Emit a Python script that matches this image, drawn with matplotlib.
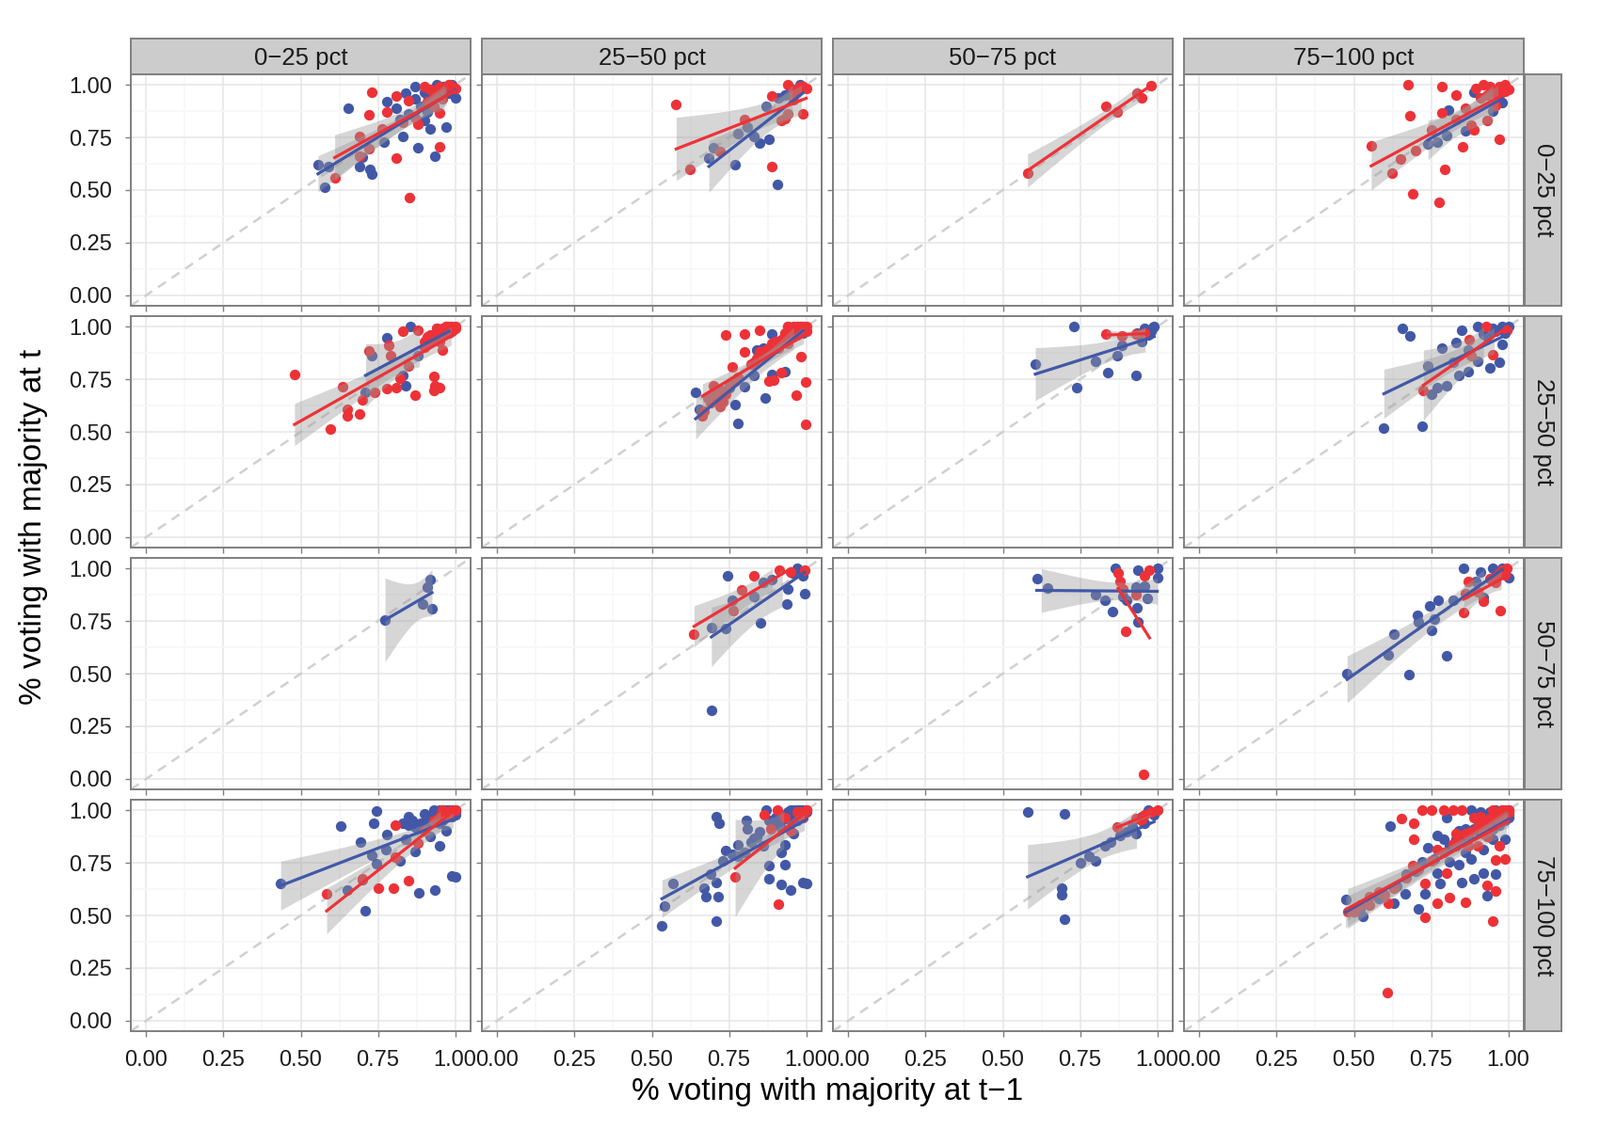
import numpy as np
import matplotlib
matplotlib.use("Agg")
import matplotlib.pyplot as plt

plt.rcParams['font.family'] = ['Liberation Sans', 'DejaVu Sans']

RED = '#ED3237'
BLUE = '#4258A7'

col_labels = ['0\u221225 pct', '25\u221250 pct', '50\u221275 pct', '75\u2212100 pct']
row_labels = ['0\u221225 pct', '25\u221250 pct', '50\u221275 pct', '75\u2212100 pct']
ticks = [0.0, 0.25, 0.5, 0.75, 1.0]
tick_labels = ['0.00', '0.25', '0.50', '0.75', '1.00']

# (x = share at t-1, y = share at t);
# the top-right clusters are heavily overplotted in the original
p11_blue = [(0.654, 0.888), (0.78, 0.92), (0.556, 0.62), (0.578, 0.513), (0.69, 0.613), (0.73, 0.576),
            (0.725, 0.60), (0.77, 0.73), (0.83, 0.754), (0.88, 0.70), (0.935, 0.66), (0.97, 0.80),
            (0.92, 0.79), (1.0, 0.94), (0.87, 0.993), (0.94, 1.0), (0.81, 0.89), (0.85, 0.86),
            (0.90, 0.963), (0.96, 0.99), (0.82, 0.836), (0.90, 0.83), (0.99, 0.98), (0.87, 0.933),
            (0.84, 0.96), (0.91, 0.87), (0.70, 0.657), (0.59, 0.61),
            (0.93, 0.95), (0.95, 0.97), (0.97, 0.99), (0.98, 0.96), (0.99, 1.0), (0.96, 0.94),
            (0.92, 0.93), (0.94, 0.98), (0.89, 0.90), (0.91, 0.95)]
p11_red = [(0.73, 0.966), (0.81, 0.945), (0.72, 0.856), (0.78, 0.87), (0.69, 0.757), (0.69, 0.66),
           (0.61, 0.56), (0.81, 0.65), (0.853, 0.464), (0.95, 0.707), (0.95, 0.866), (0.88, 0.814),
           (0.85, 0.926), (0.90, 0.993), (0.98, 1.0), (0.92, 0.978), (0.87, 0.844), (0.96, 0.933),
           (0.93, 0.90), (1.0, 0.985), (0.83, 0.82), (0.765, 0.79), (0.72, 0.695),
           (0.94, 0.96), (0.97, 0.98), (0.99, 0.99), (0.96, 0.95), (0.98, 1.0), (0.93, 0.94),
           (0.91, 0.92), (0.95, 0.99)]

p12_blue = [(0.685, 0.65), (0.70, 0.70), (0.77, 0.62), (0.85, 0.725), (0.88, 0.74), (0.906, 0.528),
            (0.83, 0.754), (0.78, 0.77), (0.87, 0.90), (0.91, 0.94), (0.95, 0.985), (0.99, 0.99),
            (0.96, 0.96), (0.81, 0.80), (0.97, 0.98), (0.98, 1.0), (0.93, 0.95)]
p12_red = [(0.579, 0.906), (0.624, 0.60), (0.89, 0.613), (0.99, 0.86), (0.72, 0.683), (0.80, 0.836),
           (0.94, 0.86), (0.89, 0.945), (0.94, 1.0), (0.99, 0.99), (1.0, 0.985), (0.96, 0.93),
           (0.92, 0.83), (0.93, 0.84), (0.97, 0.98), (0.98, 0.99), (0.96, 0.97)]

p13_blue = []
p13_red = [(0.58, 0.58), (0.835, 0.90), (0.87, 0.87), (0.935, 0.96), (0.95, 0.94), (0.98, 0.995)]

p14_blue = [(0.805, 0.88), (0.86, 0.78), (0.74, 0.717), (0.77, 0.73), (0.89, 0.963), (0.95, 0.874),
            (0.98, 0.918), (0.80, 0.76)]
p14_red = [(0.675, 1.0), (0.785, 0.99), (0.83, 0.95), (0.68, 0.854), (0.556, 0.71), (0.624, 0.58),
           (0.65, 0.647), (0.70, 0.688), (0.795, 0.598), (0.69, 0.484), (0.775, 0.44), (0.853, 0.705),
           (0.89, 0.784), (0.93, 0.83), (0.97, 0.74), (0.785, 0.866), (0.86, 0.89), (0.895, 0.985),
           (0.92, 1.0), (0.96, 0.903), (1.0, 0.978), (0.94, 0.96), (0.88, 0.81), (0.75, 0.785),
           (0.83, 0.836), (0.95, 0.97), (0.97, 0.99), (0.99, 1.0), (0.96, 0.96), (0.98, 0.98),
           (0.93, 0.95), (0.91, 0.94), (0.94, 0.99), (0.97, 0.95), (0.99, 0.97)]

p21_blue = [(0.854, 1.0), (0.78, 0.948), (0.73, 0.86), (0.83, 0.77), (0.84, 0.717), (0.94, 0.99),
            (0.88, 0.86), (0.98, 0.978), (0.71, 0.687)]
p21_red = [(0.48, 0.772), (0.636, 0.713), (0.597, 0.513), (0.65, 0.606), (0.65, 0.576), (0.69, 0.583),
           (0.70, 0.65), (0.74, 0.687), (0.72, 0.885), (0.785, 0.91), (0.83, 0.98), (0.78, 0.707),
           (0.81, 0.71), (0.87, 0.673), (0.93, 0.762), (0.934, 0.717), (0.95, 0.71), (0.93, 0.695),
           (0.88, 0.985), (0.94, 0.978), (0.97, 1.0), (1.0, 0.99), (0.90, 0.903), (0.85, 0.814),
           (0.92, 0.933), (0.96, 0.888), (0.82, 0.754), (0.79, 0.86),
           (0.95, 0.98), (0.97, 0.99), (0.99, 1.0), (0.96, 0.96), (0.98, 0.97), (0.93, 0.95),
           (0.94, 0.99), (0.99, 0.98), (0.97, 1.0), (0.92, 0.96), (0.90, 0.93), (0.95, 0.93),
           (0.98, 1.0), (1.0, 1.0), (0.96, 0.99), (0.91, 0.95)]

p22_blue = [(0.642, 0.69), (0.654, 0.606), (0.77, 0.628), (0.78, 0.54), (0.866, 0.662), (0.80, 0.713),
            (0.89, 0.772), (0.93, 0.787), (0.84, 0.888), (0.89, 0.963), (0.94, 1.0), (0.99, 0.985),
            (0.83, 0.77), (0.75, 0.71), (0.95, 0.97), (0.97, 0.99), (0.99, 0.97), (0.93, 0.94),
            (0.91, 0.92), (0.88, 0.89), (0.86, 0.90), (0.98, 1.0)]
p22_red = [(0.74, 0.96), (0.80, 0.963), (0.85, 0.985), (0.80, 0.88), (0.76, 0.81), (0.984, 0.858),
           (0.998, 0.737), (0.968, 0.673), (0.998, 0.534), (0.92, 0.78), (0.88, 0.74), (0.896, 0.747),
           (0.73, 0.643), (0.664, 0.576), (0.70, 0.717), (0.94, 1.0), (0.98, 1.0), (0.83, 0.83),
           (0.91, 0.90), (0.93, 0.97), (0.95, 0.98), (0.97, 0.99), (0.99, 1.0), (0.96, 0.95),
           (0.98, 0.97), (0.92, 0.94), (0.94, 0.92), (0.97, 0.96), (0.99, 0.98), (0.90, 0.93),
           (0.88, 0.90), (0.86, 0.87), (0.84, 0.85), (0.82, 0.82), (0.78, 0.76), (0.75, 0.72),
           (0.70, 0.69), (0.68, 0.66), (0.72, 0.70), (0.67, 0.60), (0.72, 0.62),
           (0.95, 0.99), (0.97, 1.0), (0.99, 0.99), (1.0, 1.0), (0.96, 0.98), (0.93, 0.95),
           (0.91, 0.93), (0.89, 0.92), (0.87, 0.89), (0.85, 0.88), (0.98, 0.99), (1.0, 0.98),
           (0.96, 1.0), (0.94, 0.97), (0.69, 0.64), (0.71, 0.66), (0.74, 0.68), (0.77, 0.74)]

p23_blue = [(0.605, 0.82), (0.73, 1.0), (0.74, 0.71), (0.80, 0.835), (0.84, 0.78), (0.87, 0.86),
            (0.93, 0.77), (0.935, 0.97), (0.97, 0.96), (0.985, 0.995), (0.95, 0.93), (0.885, 0.91),
            (0.99, 1.0), (0.98, 0.98), (0.96, 0.99)]
p23_red = [(0.835, 0.965), (0.885, 0.955), (0.93, 0.965), (0.96, 0.97)]

p24_blue = [(0.657, 0.993), (0.68, 0.955), (0.597, 0.52), (0.72, 0.528), (0.785, 0.90), (0.83, 0.926),
            (0.85, 0.985), (0.75, 0.68), (0.80, 0.717), (0.77, 0.71), (0.87, 0.784), (0.90, 0.836),
            (0.94, 0.806), (0.97, 0.83), (0.90, 1.0), (0.95, 0.99), (0.99, 0.97), (0.98, 0.918),
            (0.82, 0.83), (0.74, 0.814), (0.84, 0.77), (0.92, 0.963), (0.87, 0.888), (1.0, 1.0),
            (0.96, 0.98), (0.98, 1.0), (0.93, 0.95)]
p24_red = [(0.725, 0.695), (0.874, 0.94), (0.88, 0.86), (0.95, 0.866), (0.995, 0.985), (0.927, 1.0)]

p31_blue = [(0.773, 0.755), (0.895, 0.83), (0.92, 0.947), (0.925, 0.81), (0.91, 0.91)]
p31_red = []

p32_blue = [(0.745, 0.967), (0.693, 0.326), (0.853, 0.74), (0.936, 0.83), (0.695, 0.717), (0.74, 0.713),
            (0.76, 0.85), (0.83, 0.866), (0.86, 0.933), (0.89, 0.948), (0.94, 0.903), (0.995, 0.88),
            (0.97, 1.0), (0.99, 0.963), (0.955, 0.978)]
p32_red = [(0.637, 0.69), (0.83, 0.966), (0.79, 0.896), (0.764, 0.80), (0.913, 0.99), (0.995, 0.99),
           (0.95, 0.985)]

p33_blue = [(0.61, 0.95), (0.644, 0.906), (0.80, 0.876), (0.83, 0.847), (0.854, 0.796), (0.863, 1.0),
            (0.937, 0.99), (1.0, 1.0), (1.0, 0.955), (0.967, 0.858), (0.934, 0.814), (0.937, 0.747),
            (0.90, 0.85), (0.89, 0.866), (0.93, 0.91), (0.96, 0.918)]
p33_red = [(0.898, 0.70), (0.957, 0.02), (0.873, 0.978), (0.88, 0.94), (0.93, 0.874), (0.96, 0.963),
           (0.975, 0.99), (0.89, 0.903)]

p34_blue = [(0.478, 0.50), (0.611, 0.588), (0.63, 0.687), (0.677, 0.494), (0.80, 0.583), (0.75, 0.707),
            (0.705, 0.777), (0.745, 0.82), (0.774, 0.847), (0.82, 0.85), (0.854, 1.0), (0.91, 0.985),
            (0.95, 1.0), (0.98, 1.0), (0.92, 0.86), (0.896, 0.94), (1.0, 0.955), (0.76, 0.76),
            (0.71, 0.747)]
p34_red = [(0.975, 0.80), (0.856, 0.79), (0.86, 0.88), (0.87, 0.94), (0.995, 1.0), (0.90, 0.888),
           (0.96, 0.933), (0.92, 0.844), (0.97, 0.98), (0.98, 0.99), (0.99, 0.97), (0.96, 0.96),
           (0.94, 0.95)]

p41_blue = [(0.435, 0.65), (0.631, 0.927), (0.745, 0.995), (0.735, 0.94), (0.695, 0.848), (0.78, 0.885),
            (0.708, 0.524), (0.65, 0.62), (0.73, 0.784), (0.745, 0.747), (0.82, 0.76), (0.87, 0.806),
            (0.883, 0.606), (0.935, 0.62), (0.95, 0.83), (0.99, 0.688), (1.0, 0.683), (0.83, 0.94),
            (0.85, 0.97), (0.90, 0.985), (0.93, 1.0), (0.97, 0.903), (1.0, 0.993), (0.88, 0.918),
            (0.92, 0.874), (0.775, 0.814), (0.84, 0.86), (0.70, 0.67),
            (0.95, 0.98), (0.96, 0.99), (0.97, 0.97), (0.98, 1.0), (0.99, 0.99), (0.94, 0.96),
            (0.93, 0.97), (0.96, 0.95), (0.92, 0.95), (0.91, 0.93), (0.95, 0.94), (0.99, 0.97),
            (0.89, 0.94), (0.87, 0.92), (0.86, 0.95), (0.85, 0.93), (0.97, 1.0), (0.98, 0.98),
            (1.0, 1.0), (0.94, 0.99), (0.96, 1.0), (0.99, 1.0), (0.98, 0.99), (1.0, 0.98),
            (0.97, 0.99), (0.95, 1.0), (0.93, 0.98), (0.91, 0.97)]
p41_red = [(0.584, 0.603), (0.70, 0.673), (0.75, 0.628), (0.80, 0.628), (0.85, 0.665), (0.805, 0.93),
           (0.805, 0.777), (0.88, 0.844), (0.99, 1.0), (0.97, 0.985), (0.90, 0.903),
           (0.95, 0.97), (0.97, 0.99), (0.98, 0.98), (1.0, 1.0), (0.93, 0.95), (0.96, 1.0)]

p42_blue = [(0.533, 0.45), (0.54, 0.546), (0.57, 0.653), (0.674, 0.588), (0.67, 0.628), (0.71, 0.474),
            (0.714, 0.588), (0.71, 0.658), (0.69, 0.695), (0.71, 0.97), (0.718, 0.94), (0.74, 0.81),
            (0.78, 0.836), (0.806, 0.95), (0.81, 0.91), (0.88, 0.736), (0.88, 0.673), (0.92, 0.647),
            (0.93, 0.74), (0.92, 0.80), (0.95, 0.62), (0.99, 0.658), (1.0, 0.65), (0.83, 0.866),
            (0.87, 1.0), (0.93, 0.836), (0.95, 1.0), (0.99, 0.99), (0.86, 0.83), (0.92, 0.918),
            (0.96, 0.888), (0.90, 0.963),
            (0.94, 0.97), (0.96, 0.99), (0.97, 0.98), (0.98, 1.0), (0.99, 0.97), (1.0, 1.0),
            (0.95, 0.95), (0.93, 0.96), (0.91, 0.94), (0.89, 0.92), (0.97, 0.95), (0.98, 0.99),
            (0.96, 1.0), (0.92, 0.97), (0.88, 0.95), (0.85, 0.90), (0.84, 0.87), (0.82, 0.85),
            (0.80, 0.80), (0.78, 0.78), (0.76, 0.79), (0.73, 0.76), (0.99, 1.0), (1.0, 0.99),
            (0.97, 1.0), (0.94, 0.99)]
p42_red = [(0.91, 0.554), (0.77, 0.683), (0.864, 0.978), (0.906, 1.0), (0.99, 0.963), (0.886, 0.91),
           (0.95, 0.903), (0.98, 0.99), (0.93, 0.963), (1.0, 1.0), (0.97, 0.99)]

p43_blue = [(0.58, 0.99), (0.70, 0.985), (0.69, 0.63), (0.69, 0.60), (0.70, 0.48), (0.78, 0.78),
            (0.80, 0.76), (0.85, 0.85), (0.88, 0.88), (0.92, 0.92), (0.95, 0.97), (0.97, 1.0),
            (0.99, 0.98), (0.93, 0.89), (0.96, 0.94), (0.90, 0.90), (0.83, 0.83), (0.75, 0.75)]
p43_red = [(0.87, 0.92), (0.93, 0.96), (0.96, 0.98), (0.98, 0.99), (0.95, 0.95), (1.0, 1.0)]

p44_blue = [(0.473, 0.576), (0.53, 0.494), (0.617, 0.927), (0.63, 0.56), (0.667, 0.605), (0.71, 0.53),
            (0.73, 0.605), (0.74, 0.82), (0.77, 0.88), (0.78, 0.65), (0.84, 0.903), (0.85, 0.658),
            (0.89, 0.673), (0.92, 0.70), (0.96, 0.695), (0.93, 0.594), (0.88, 1.0), (0.94, 0.99),
            (1.0, 0.963), (0.99, 0.86), (0.81, 0.754), (0.86, 0.80), (0.88, 0.77), (0.83, 0.83),
            (0.90, 0.903), (0.95, 0.86), (0.80, 0.963), (0.77, 0.70), (0.72, 0.754), (0.67, 0.695),
            (0.96, 0.933), (0.92, 0.814), (0.79, 0.86), (0.84, 0.74), (0.98, 1.0),
            (0.97, 0.98), (0.99, 0.99), (1.0, 1.0), (0.95, 0.96), (0.93, 0.95), (0.91, 0.93),
            (0.98, 0.96), (0.96, 1.0), (0.94, 0.94), (0.92, 0.97), (0.90, 0.95), (0.89, 0.91),
            (0.87, 0.88), (0.85, 0.87), (0.97, 0.93), (0.99, 0.95), (0.95, 0.91), (0.93, 0.90),
            (0.98, 0.99), (1.0, 0.98), (0.96, 0.97), (0.91, 0.99), (0.86, 0.91), (0.83, 0.86),
            (0.81, 0.83), (0.76, 0.77), (0.70, 0.71), (0.64, 0.64), (0.58, 0.58), (0.52, 0.53)]
p44_red = [(0.607, 0.134), (0.654, 0.96), (0.695, 0.94), (0.695, 0.862), (0.72, 1.0), (0.75, 1.0),
           (0.79, 1.0), (0.82, 1.0), (0.85, 1.0), (0.73, 0.49), (0.77, 0.556), (0.81, 0.583),
           (0.86, 0.564), (0.95, 0.472), (0.93, 0.643), (0.96, 0.617), (0.80, 0.70), (0.69, 0.737),
           (0.96, 0.762), (0.99, 0.77), (0.90, 0.83), (0.83, 0.888), (0.93, 0.874), (0.87, 0.83),
           (0.89, 0.963), (0.98, 0.99), (0.97, 0.83), (0.77, 0.814), (0.48, 0.516), (0.55, 0.59),
           (0.58, 0.61), (0.55, 0.55), (0.61, 0.56), (0.73, 0.65),
           (0.97, 0.99), (0.99, 1.0), (1.0, 1.0), (0.96, 0.97), (0.94, 0.96), (0.92, 0.95),
           (0.98, 0.97), (0.95, 1.0), (0.93, 0.93), (0.91, 0.97), (0.90, 0.92), (0.88, 0.90),
           (0.86, 0.89), (0.97, 0.95), (0.99, 0.97), (0.94, 0.91), (0.92, 0.89), (0.98, 1.0),
           (1.0, 0.99), (0.96, 0.99), (0.84, 0.85), (0.82, 0.84), (0.79, 0.80), (0.75, 0.76),
           (0.71, 0.72), (0.67, 0.68), (0.63, 0.63), (0.60, 0.60), (0.52, 0.55), (0.50, 0.52)]

panels = [[(p11_blue, p11_red), (p12_blue, p12_red), (p13_blue, p13_red), (p14_blue, p14_red)],
          [(p21_blue, p21_red), (p22_blue, p22_red), (p23_blue, p23_red), (p24_blue, p24_red)],
          [(p31_blue, p31_red), (p32_blue, p32_red), (p33_blue, p33_red), (p34_blue, p34_red)],
          [(p41_blue, p41_red), (p42_blue, p42_red), (p43_blue, p43_red), (p44_blue, p44_red)]]


def t975(df):
    z = 1.959964
    return (z + (z**3 + z) / (4 * df) + (5 * z**5 + 16 * z**3 + 3 * z) / (96 * df**2)
            + (3 * z**7 + 19 * z**5 + 17 * z**3 - 15 * z) / (384 * df**3))


def smooth(ax, pts, color):
    # lm fit with 95% band; parts outside the 0..1 scale limits are dropped
    if len(pts) < 3:
        return
    d = np.array(pts)
    x, y = d[:, 0], d[:, 1]
    n = len(x)
    b, a = np.polyfit(x, y, 1)
    xs = np.linspace(x.min(), x.max(), 80)
    fit = a + b * xs
    resid = y - (a + b * x)
    s = np.sqrt(np.sum(resid**2) / (n - 2))
    se = s * np.sqrt(1.0 / n + (xs - x.mean())**2 / np.sum((x - x.mean())**2))
    w = t975(n - 2) * se
    ok = (fit - w >= 0) & (fit + w <= 1)
    if ok.sum() >= 2:
        ax.fill_between(xs[ok], (fit - w)[ok], (fit + w)[ok], color='#999999', alpha=0.4,
                        lw=0, zorder=4)
    ok = (fit >= 0) & (fit <= 1)
    ax.plot(xs[ok], fit[ok], color=color, lw=2.3, zorder=5)


fig = plt.figure(figsize=(17, 12), dpi=100)
W, H = 1700, 1200
col_x = [139, 512, 885, 1258]
row_y = [79, 336, 593, 850]
pw, ph = 361, 246

for i in range(4):
    for j in range(4):
        ax = fig.add_axes([col_x[j] / W, 1 - (row_y[i] + ph) / H, pw / W, ph / H])
        ax.set_xlim(-0.05, 1.05)
        ax.set_ylim(-0.05, 1.05)
        ax.set_xticks(ticks)
        ax.set_yticks(ticks)
        ax.set_xticks([0.125, 0.375, 0.625, 0.875], minor=True)
        ax.set_yticks([0.125, 0.375, 0.625, 0.875], minor=True)
        ax.grid(which='major', color='#E5E5E5', lw=1.1, zorder=0)
        ax.grid(which='minor', color='#F7F7F7', lw=1.1, zorder=0)
        ax.set_axisbelow(True)
        for sp in ax.spines.values():
            sp.set_color('#7F7F7F')
            sp.set_linewidth(1.4)
        ax.tick_params(which='major', length=4.5, width=1, color='#7F7F7F', labelsize=17,
                       labelcolor='#1A1A1A', pad=10)
        ax.tick_params(which='minor', length=0)
        if i == 3:
            ax.set_xticklabels(tick_labels)
        else:
            ax.set_xticklabels([])
        if j == 0:
            ax.set_yticklabels(tick_labels)
        else:
            ax.set_yticklabels([])

        ax.plot([-0.05, 1.05], [-0.05, 1.05], color='#D0D0D0', lw=1.8, ls=(0, (4, 3)), zorder=1)

        blue, red = panels[i][j]
        for pts, c in ((blue, BLUE), (red, RED)):
            if pts:
                d = np.array(pts)
                ax.scatter(d[:, 0], d[:, 1], s=66, color=c, lw=0, zorder=3, clip_on=False)
        smooth(ax, blue, BLUE)
        smooth(ax, red, RED)

        if i == 0:
            sax = fig.add_axes([col_x[j] / W, 1 - 79 / H, pw / W, 38 / H])
            sax.set_facecolor('#CCCCCC')
            sax.set_xticks([])
            sax.set_yticks([])
            for sp in sax.spines.values():
                sp.set_color('#7F7F7F')
                sp.set_linewidth(1.4)
            sax.text(0.5, 0.45, col_labels[j], ha='center', va='center', fontsize=18.5,
                     color='#1A1A1A')
        if j == 3:
            rax = fig.add_axes([1620 / W, 1 - (row_y[i] + ph) / H, 39 / W, ph / H])
            rax.set_facecolor('#CCCCCC')
            rax.set_xticks([])
            rax.set_yticks([])
            for sp in rax.spines.values():
                sp.set_color('#7F7F7F')
                sp.set_linewidth(1.4)
            rax.text(0.5, 0.5, row_labels[i], ha='center', va='center', fontsize=18.5,
                     rotation=-90, color='#1A1A1A')

fig.text((139 + 1619) / 2 / W, 1 - 1160 / H, '% voting with majority at t\u22121',
         ha='center', va='center', fontsize=24)
fig.text(36 / W, 1 - 560 / H, '% voting with majority at t', ha='center', va='center',
         fontsize=24, rotation=90)

fig.savefig('out.png', dpi=100)
